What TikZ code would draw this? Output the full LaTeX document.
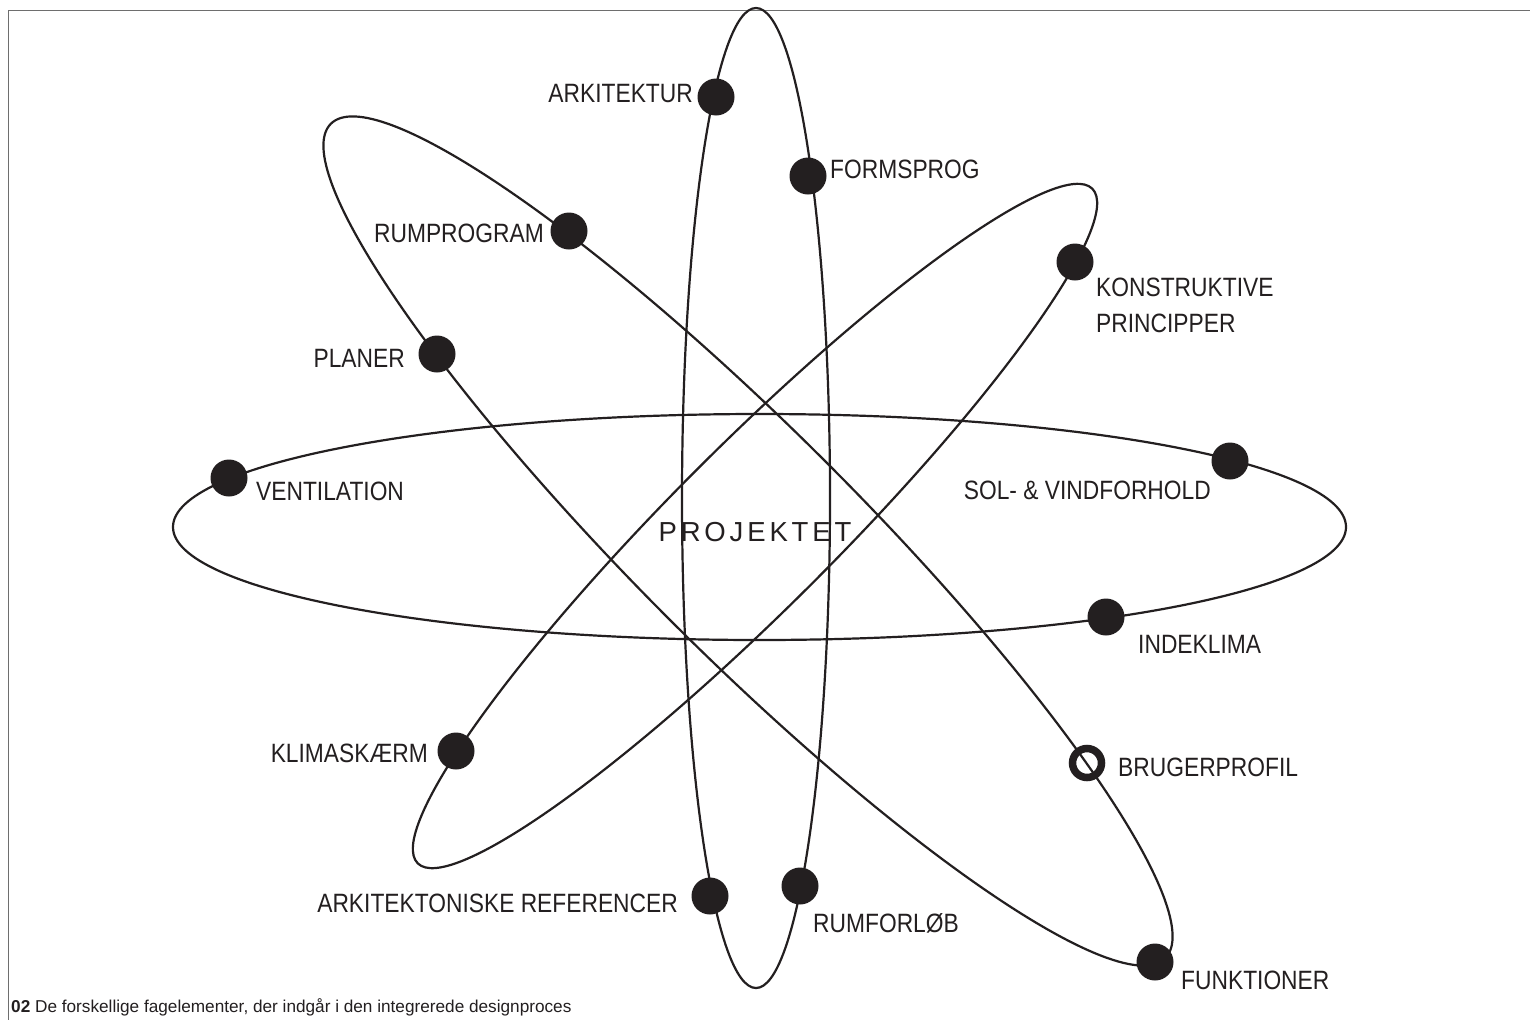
\documentclass[tikz,border=0pt]{standalone}
\usepackage{fontspec}
\setmainfont{Liberation Sans}
\newfontfamily\lblfont[FakeStretch=0.86]{Liberation Sans}
\newfontfamily\projfont[LetterSpace=14]{Liberation Sans}
\newfontfamily\capfont{Liberation Sans}
\definecolor{ink}{HTML}{231F20}
\definecolor{framegray}{HTML}{6E6E6E}
\begin{document}
\begin{tikzpicture}[x=1pt,y=-1pt,
  orbit/.style={draw=ink,line width=2.2pt},
  dot/.style={circle,fill=ink,minimum size=37pt,inner sep=0pt},
  ring/.style={circle,draw=ink,line width=7.5pt,minimum size=29pt,inner sep=0pt},
  lbl/.style={text=ink,font=\lblfont\fontsize{26.5}{30}\selectfont,inner sep=0pt},
  framestyle/.style={draw=framegray,line width=1.6pt}]
\useasboundingbox[fill=white] (0,0) rectangle (1530,1020);
% frame
\coordinate (ftr) at (1530,10.5);
\coordinate (ftl) at (8.5,10.5);
\coordinate (fbl) at (8.5,1020);
\draw[framestyle] (ftr) -- (ftl) -- (fbl);
% orbits
\coordinate (ch) at (759.5,527);
\coordinate (cv) at (756,498);
\coordinate (ca) at (748,541);
\coordinate (cb) at (755,526);
\draw[orbit] (ch) ellipse [x radius=586.5, y radius=113];
\draw[orbit] (cv) ellipse [x radius=74, y radius=490];
\draw[orbit, rotate around={-45:(ca)}] (ca) ellipse [x radius=590, y radius=111];
\draw[orbit, rotate around={45:(cb)}] (cb) ellipse [x radius=477, y radius=81];
% dots
\node[dot] (d1) at (716,97) {};
\node[dot] (d2) at (808,176) {};
\node[dot] (d3) at (569,231) {};
\node[dot] (d4) at (1075,262) {};
\node[dot] (d5) at (437,354) {};
\node[dot] (d6) at (229,478) {};
\node[dot] (d7) at (1230,461) {};
\node[dot] (d8) at (1106,617) {};
\node[dot] (d9) at (456,751) {};
\node[ring] (d10) at (1087,763) {};
\node[dot] (d11) at (710,896) {};
\node[dot] (d12) at (800,886) {};
\node[dot] (d13) at (1155,962) {};
% labels
\node[lbl, anchor=base east] (l1) at (693,102) {ARKITEKTUR};
\node[lbl, anchor=base west] (l2) at (830,178) {FORMSPROG};
\node[lbl, anchor=base east] (l3) at (544,242) {RUMPROGRAM};
\node[lbl, anchor=base west] (l4a) at (1096,296) {KONSTRUKTIVE};
\node[lbl, anchor=base west] (l4b) at (1096,332) {PRINCIPPER};
\node[lbl, anchor=base east] (l5) at (405,367) {PLANER};
\node[lbl, anchor=base west] (l6) at (256,500) {VENTILATION};
\node[lbl, anchor=base east] (l7) at (1211,499) {SOL- \& VINDFORHOLD};
\node[lbl, anchor=base west] (l8) at (1138,653) {INDEKLIMA};
\node[lbl, anchor=base east] (l9) at (428,762) {KLIMASKÆRM};
\node[lbl, anchor=base west] (l10) at (1118,776) {BRUGERPROFIL};
\node[lbl, anchor=base east] (l11) at (678,912) {ARKITEKTONISKE REFERENCER};
\node[lbl, anchor=base west] (l12) at (813,932) {RUMFORLØB};
\node[lbl, anchor=base west] (l13) at (1181,989) {FUNKTIONER};
\node[text=ink, font=\projfont\fontsize{27.5}{30}\selectfont, inner sep=0pt, anchor=base] (proj) at (755,541) {PROJEKTET};
\node[text=ink, font=\capfont\fontsize{17.2}{20}\selectfont, inner sep=0pt, anchor=base west] (cap) at (11,1012) {\textbf{02} De forskellige fagelementer, der indgår i den integrerede designproces};
\end{tikzpicture}
\end{document}
